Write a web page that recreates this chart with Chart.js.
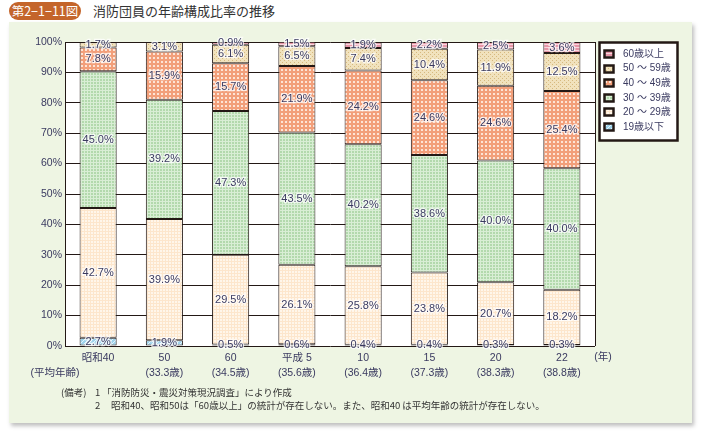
<!DOCTYPE html>
<html lang="ja">
<head>
<meta charset="utf-8">
<script src="https://cdn.jsdelivr.net/npm/chart.js@4.4.0/dist/chart.umd.min.js"></script>
<style>
  body { margin: 0; width: 703px; height: 436px; background: #fff; position: relative; overflow: hidden;
         font-family: "Liberation Sans", "Noto Sans CJK JP", sans-serif; color: #333; }
  .panel { position: absolute; left: 9px; top: 22px; width: 683px; height: 401px; background: #eef5e3;
           box-shadow: 2px 3px 4px rgba(0,0,0,0.25); }
  .badge { position: absolute; left: 9px; top: 2px; width: 72px; height: 18px; border-radius: 9px;
           background: #c4652b; color: #fff; font: 12.5px "Noto Sans CJK JP", sans-serif;
           line-height: 18px; text-align: center; }
  .title { position: absolute; left: 93px; top: 1px; font: 13px "Noto Sans CJK JP", sans-serif; line-height: 20px; color: #333; }
  .note { position: absolute; font: 9.5px "Noto Sans CJK JP", sans-serif; color: #333; line-height: 12px; white-space: nowrap; }
  #chart { position: absolute; left: 0; top: 0; }
</style>
</head>
<body>
<div class="panel"></div>
<div class="badge">第2−1−11図</div>
<div class="title">消防団員の年齢構成比率の推移</div>
<canvas id="chart" width="703" height="436"></canvas>
<div class="note" style="left:61px;top:386px">(備考)</div>
<div class="note" style="left:95px;top:386px">1</div>
<div class="note" style="left:102px;top:386px">「消防防災・震災対策現況調査」により作成</div>
<div class="note" style="left:95px;top:399px">2</div>
<div class="note" style="left:111px;top:399px">昭和40、昭和50は「60歳以上」の統計が存在しない。また、昭和40 は平均年齢の統計が存在しない。</div>
<script>
// data (percent, bottom to top)
const years = ['昭和40', '50', '60', '平成 5', '10', '15', '20', '22'];
const avgAge = ['', '(33.3歳)', '(34.5歳)', '(35.6歳)', '(36.4歳)', '(37.3歳)', '(38.3歳)', '(38.8歳)'];
const under19 = [2.7, 1.9, 0.5, 0.6, 0.4, 0.4, 0.3, 0.3];
const age20s = [42.7, 39.9, 29.5, 26.1, 25.8, 23.8, 20.7, 18.2];
const age30s = [45.0, 39.2, 47.3, 43.5, 40.2, 38.6, 40.0, 40.0];
const age40s = [7.8, 15.9, 15.7, 21.9, 24.2, 24.6, 24.6, 25.4];
const age50s = [1.7, 3.1, 6.1, 6.5, 7.4, 10.4, 11.9, 12.5];
const over60 = [null, null, 0.9, 1.5, 1.9, 2.2, 2.5, 3.6];
const seriesNames = ['19歳以下', '20 ～ 29歳', '30 ～ 39歳', '40 ～ 49歳', '50 ～ 59歳', '60歳以上'];
const yMax = 100, yStep = 10;
const avgAgeCaption = '(平均年齢)';
const yearUnit = '(年)';

const textColor = '#3a3a60';
const lineColor = '#231815';
const numFont = '"Liberation Sans", "Noto Sans CJK JP", sans-serif';

// small tiled patterns like the printed fills
function makePattern(w, h, draw) {
  const c = document.createElement('canvas');
  c.width = w; c.height = h;
  const g = c.getContext('2d');
  draw(g);
  return g.createPattern(c, 'repeat');
}
const pBlue = makePattern(4, 4, g => {
  g.fillStyle = '#9fd3ec'; g.fillRect(0, 0, 4, 4);
  g.fillStyle = '#e4f4fb';
  for (let i = 0; i < 4; i++) g.fillRect(i, 3 - i, 1, 1);
});
const pCream = makePattern(3, 3, g => {
  g.fillStyle = '#fff6ea'; g.fillRect(0, 0, 3, 3);
  g.fillStyle = '#fde6cc'; g.fillRect(0, 0, 3, 1); g.fillRect(0, 0, 1, 3);
});
const pGreen = makePattern(3, 3, g => {
  g.fillStyle = '#b3d9ad'; g.fillRect(0, 0, 3, 3);
  g.fillStyle = '#d9eed5'; g.fillRect(0, 0, 3, 1); g.fillRect(0, 0, 1, 3);
});
const pSalmon = makePattern(4, 4, g => {
  g.fillStyle = '#f29f7a'; g.fillRect(0, 0, 4, 4);
  g.fillStyle = '#fde4d6'; g.fillRect(1, 1, 2, 2);
});
const pBeige = makePattern(4, 4, g => {
  g.fillStyle = '#f1e2bd'; g.fillRect(0, 0, 4, 4);
  g.fillStyle = '#d6b97f'; g.fillRect(0, 0, 1, 1); g.fillRect(2, 2, 1, 1);
});
const pPink = makePattern(3, 3, g => {
  g.fillStyle = '#e796a8'; g.fillRect(0, 0, 3, 3);
  g.fillStyle = '#f8d6de'; g.fillRect(0, 2, 3, 1);
});
const fills = [pBlue, pCream, pGreen, pSalmon, pBeige, pPink];
const seriesData = [under19, age20s, age30s, age40s, age50s, over60];

const datasets = seriesData.map((d, i) => ({
  label: seriesNames[i],
  data: d,
  backgroundColor: fills[i],
  borderColor: lineColor,
  borderWidth: 1,
  borderSkipped: false,
  barPercentage: 0.56,
  categoryPercentage: 1
}));

const paperPlugin = {
  id: 'paper',
  beforeDraw(chart) {
    const { ctx, chartArea: a } = chart;
    ctx.save();
    ctx.fillStyle = '#fff';
    ctx.fillRect(a.left, a.top, a.right - a.left, a.bottom - a.top);
    ctx.restore();
  }
};

const labelPlugin = {
  id: 'segLabels',
  afterDatasetsDraw(chart) {
    const { ctx, chartArea: a } = chart;
    ctx.save();
    // right frame line
    ctx.strokeStyle = lineColor; ctx.lineWidth = 1;
    ctx.beginPath();
    ctx.moveTo(Math.round(a.right) + 0.5, a.top);
    ctx.lineTo(Math.round(a.right) + 0.5, a.bottom);
    ctx.stroke();

    ctx.font = '11px ' + numFont;
    ctx.textAlign = 'center';
    ctx.textBaseline = 'middle';
    chart.data.datasets.forEach((ds, di) => {
      chart.getDatasetMeta(di).data.forEach((bar, i) => {
        const v = ds.data[i];
        if (v == null) return;
        const y = (bar.y + bar.base) / 2;
        const t = v.toFixed(1) + '%';
        ctx.lineWidth = 2.5;
        ctx.strokeStyle = 'rgba(255,255,255,0.75)';
        ctx.strokeText(t, bar.x, y);
        ctx.fillStyle = textColor;
        ctx.fillText(t, bar.x, y);
      });
    });

    // extra captions of the x axis
    ctx.font = '10.5px ' + numFont;
    ctx.fillStyle = textColor;
    ctx.fillText(avgAgeCaption, 55, 373);
    ctx.fillText(yearUnit, 603, 357);

    // legend box
    const lx = 599, ly = 42, lw = 78, lh = 98;
    ctx.fillStyle = '#fff';
    ctx.fillRect(lx, ly, lw, lh);
    ctx.strokeStyle = lineColor;
    ctx.strokeRect(lx + 0.5, ly + 0.5, lw, lh);
    ctx.textAlign = 'left';
    ctx.font = '10px ' + numFont;
    for (let k = 0; k < seriesNames.length; k++) {
      const idx = seriesNames.length - 1 - k;
      const cy = 54 + k * 14.6;
      ctx.fillStyle = fills[idx];
      ctx.fillRect(604, Math.round(cy) - 4, 10, 8);
      ctx.strokeStyle = lineColor;
      ctx.strokeRect(604.5, Math.round(cy) - 3.5, 9, 7);
      ctx.fillStyle = textColor;
      ctx.fillText(seriesNames[idx], 623, cy);
    }
    ctx.restore();
  }
};

new Chart(document.getElementById('chart'), {
  type: 'bar',
  data: {
    labels: years.map((y, i) => [y, avgAge[i]]),
    datasets
  },
  options: {
    responsive: false,
    animation: false,
    layout: { padding: { left: 0, top: 42, right: 108, bottom: 0 } },
    plugins: { legend: { display: false }, tooltip: { enabled: false } },
    scales: {
      x: {
        stacked: true,
        grid: { display: false, drawTicks: false },
        border: { display: false },
        ticks: { color: textColor, padding: 4, font: { family: numFont, size: 10.5, lineHeight: 1.48 }, maxRotation: 0 },
        afterFit(s) { s.height = 90; }
      },
      y: {
        stacked: true,
        min: 0,
        max: yMax,
        grid: { color: lineColor, lineWidth: 1, drawTicks: false },
        border: { display: true, color: lineColor, width: 1 },
        ticks: { stepSize: yStep, padding: 3, color: textColor, font: { family: numFont, size: 10.5 },
                 callback: v => v + '%' },
        afterFit(s) { s.width = 65; }
      }
    }
  },
  plugins: [paperPlugin, labelPlugin]
});
</script>
</body>
</html>
